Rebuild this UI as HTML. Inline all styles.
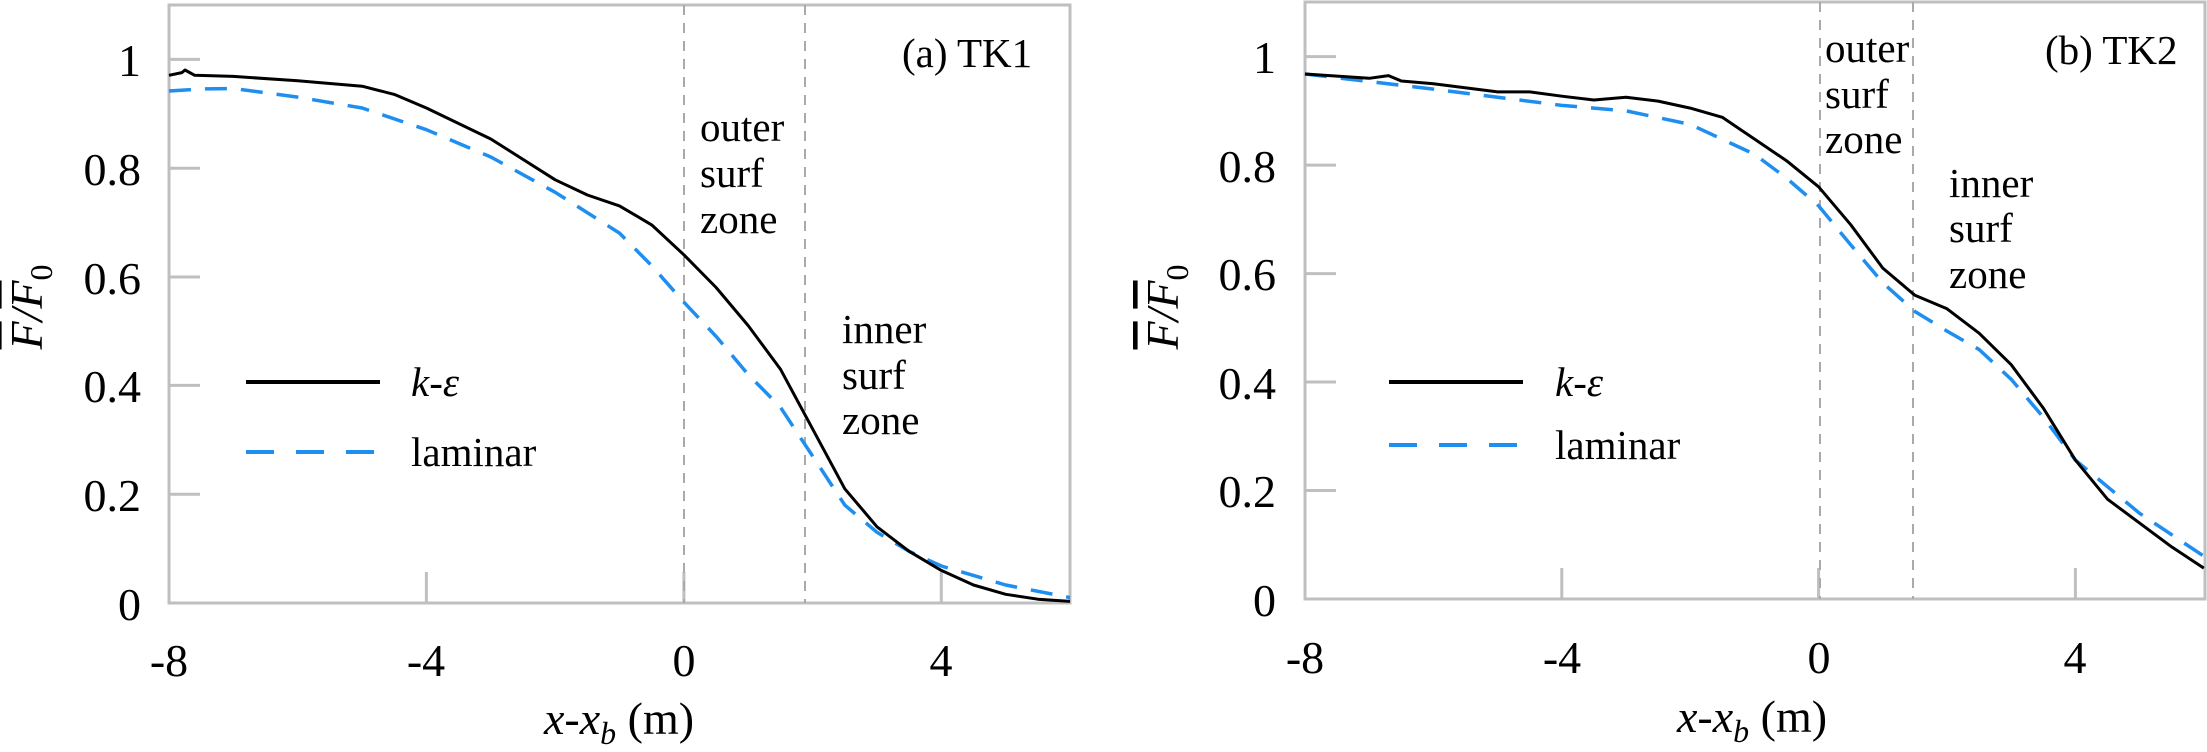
<!DOCTYPE html>
<html><head><meta charset="utf-8"><style>
html,body{margin:0;padding:0;background:#fff}
svg{display:block}
svg, svg text{font-family:"Liberation Serif","Times New Roman",serif}
text{fill:#000}
</style></head><body>
<svg width="2207" height="752" viewBox="0 0 2207 752" xmlns="http://www.w3.org/2000/svg" font-family="Liberation Serif, serif">
<!-- LEFT PANEL -->
<g fill="none">
<rect x="169" y="5" width="901" height="598" stroke="#bfbfbf" stroke-width="3"/>
<g stroke="#bfbfbf" stroke-width="3">
<line x1="169" y1="59.4" x2="200" y2="59.4"/><line x1="169" y1="168.2" x2="200" y2="168.2"/><line x1="169" y1="277" x2="200" y2="277"/><line x1="169" y1="385.4" x2="200" y2="385.4"/><line x1="169" y1="494.2" x2="200" y2="494.2"/>
<line x1="426.4" y1="603" x2="426.4" y2="572"/><line x1="683.9" y1="603" x2="683.9" y2="572"/><line x1="941.3" y1="603" x2="941.3" y2="572"/>
</g>
<g stroke="#aaa" stroke-width="2" stroke-dasharray="10,8">
<line x1="684" y1="5" x2="684" y2="603"/><line x1="805" y1="5" x2="805" y2="603"/>
</g>
<polyline stroke="#1e8ff0" stroke-width="3.5" stroke-dasharray="22,14" stroke-linejoin="round" points="169,91 200,89 233.4,88.5 297.7,97.1 362.1,108 426.4,129.7 490.8,157 555.2,192.3 619.5,233.1 651.7,265.7 683.9,302.2 716.1,336.4 748.2,374.5 780.4,407.2 812.6,456.1 844.8,505.1 877,532.3 909.1,551.3 941.3,566 1005.7,585 1070,597.6"/>
<polyline stroke="#000" stroke-width="3" stroke-linejoin="round" points="169,75.3 181.9,72.6 185,70 194.7,75.3 233.4,76.4 297.7,80.8 362.1,86.2 394.3,94.4 426.4,108 490.8,139 555.2,179.8 587.4,195 619.5,205.9 651.7,224.9 683.9,254.8 716.1,287.5 748.2,325.6 780.4,369.1 812.6,428.9 844.8,488.8 877,526.8 909.1,551.3 941.3,570.4 973.5,585 1005.7,594.3 1037.8,599.2 1070,601.4"/>
<line x1="246" y1="382" x2="380" y2="382" stroke="#000" stroke-width="4"/>
<line x1="246" y1="452" x2="380" y2="452" stroke="#1e8ff0" stroke-width="4" stroke-dasharray="28,22"/>
</g>
<g font-size="46" text-anchor="end">
<text x="141" y="76">1</text><text x="141" y="185">0.8</text><text x="141" y="294">0.6</text><text x="141" y="402">0.4</text><text x="141" y="511">0.2</text><text x="141" y="620">0</text>
</g>
<g font-size="46" text-anchor="middle">
<text x="169" y="676">-8</text><text x="426" y="676">-4</text><text x="684" y="676">0</text><text x="941" y="676">4</text>
<text x="619" y="734"><tspan font-style="italic">x</tspan>-<tspan font-style="italic">x</tspan><tspan font-style="italic" font-size="32" dy="10">b</tspan><tspan dy="-10"> (m)</tspan></text>
</g>
<text x="411" y="396" font-size="41" font-style="italic">k-ε</text>
<text x="411" y="466" font-size="41">laminar</text>
<text x="902" y="67" font-size="41">(a) TK1</text>
<g font-size="41"><text x="700" y="141">outer</text><text x="700" y="187">surf</text><text x="700" y="233">zone</text>
<text x="842" y="343">inner</text><text x="842" y="389">surf</text><text x="842" y="434">zone</text></g>
<g transform="translate(42,307) rotate(-90)"><text font-size="46" font-style="italic" text-anchor="middle"><tspan text-decoration="overline">F</tspan>/<tspan text-decoration="overline">F</tspan><tspan font-size="32" font-style="normal" dy="10">0</tspan></text></g>

<!-- RIGHT PANEL -->
<g fill="none">
<rect x="1305" y="2" width="900" height="597" stroke="#bfbfbf" stroke-width="3"/>
<g stroke="#bfbfbf" stroke-width="3">
<line x1="1305" y1="56.6" x2="1336" y2="56.6"/><line x1="1305" y1="165.1" x2="1336" y2="165.1"/><line x1="1305" y1="273.6" x2="1336" y2="273.6"/><line x1="1305" y1="382" x2="1336" y2="382"/><line x1="1305" y1="490.5" x2="1336" y2="490.5"/>
<line x1="1561.8" y1="599" x2="1561.8" y2="568"/><line x1="1818.6" y1="599" x2="1818.6" y2="568"/><line x1="2075.4" y1="599" x2="2075.4" y2="568"/>
</g>
<g stroke="#aaa" stroke-width="2" stroke-dasharray="10,8">
<line x1="1820" y1="2" x2="1820" y2="599"/><line x1="1913" y1="2" x2="1913" y2="599"/>
</g>
<polyline stroke="#1e8ff0" stroke-width="3.5" stroke-dasharray="22,14" stroke-linejoin="round" points="1305,74 1433.4,89.1 1561.8,105.4 1626,110.8 1690.2,124.4 1754.4,154.2 1786.5,178.1 1818.6,205.8 1850.7,244.8 1882.8,282.8 1914.9,311.5 1947,331.1 1979.1,349.5 2011.2,379.3 2043.3,417.3 2075.4,460.1 2139.6,513.3 2203.8,556.2"/>
<polyline stroke="#000" stroke-width="3" stroke-linejoin="round" points="1305,74 1369.2,78.3 1388.5,75.6 1401.3,81 1433.4,83.7 1497.6,91.9 1529.7,91.9 1561.8,96.2 1593.9,100 1626,97.3 1658.1,101.1 1690.2,108.1 1722.3,117.3 1754.4,139 1786.5,160.7 1818.6,186.8 1850.7,224.7 1882.8,268.1 1914.9,295.3 1947,308.8 1979.1,333.2 2011.2,364.7 2043.3,408.1 2075.4,460.1 2107.5,499.2 2139.6,523.1 2171.7,546.9 2203.8,568.1"/>
<line x1="1389" y1="382" x2="1523" y2="382" stroke="#000" stroke-width="4"/>
<line x1="1389" y1="445" x2="1523" y2="445" stroke="#1e8ff0" stroke-width="4" stroke-dasharray="28,22"/>
</g>
<g font-size="46" text-anchor="end">
<text x="1276" y="73">1</text><text x="1276" y="182">0.8</text><text x="1276" y="290">0.6</text><text x="1276" y="399">0.4</text><text x="1276" y="507">0.2</text><text x="1276" y="616">0</text>
</g>
<g font-size="46" text-anchor="middle">
<text x="1305" y="673">-8</text><text x="1562" y="673">-4</text><text x="1819" y="673">0</text><text x="2075" y="673">4</text>
<text x="1752" y="732"><tspan font-style="italic">x</tspan>-<tspan font-style="italic">x</tspan><tspan font-style="italic" font-size="32" dy="10">b</tspan><tspan dy="-10"> (m)</tspan></text>
</g>
<text x="1555" y="396" font-size="41" font-style="italic">k-ε</text>
<text x="1555" y="459" font-size="41">laminar</text>
<text x="2045" y="64" font-size="41">(b) TK2</text>
<g font-size="41"><text x="1825" y="62">outer</text><text x="1825" y="108">surf</text><text x="1825" y="153">zone</text>
<text x="1949" y="197">inner</text><text x="1949" y="242">surf</text><text x="1949" y="288">zone</text></g>
<g transform="translate(1178,307) rotate(-90)"><text font-size="46" font-style="italic" text-anchor="middle"><tspan text-decoration="overline">F</tspan>/<tspan text-decoration="overline">F</tspan><tspan font-size="32" font-style="normal" dy="10">0</tspan></text></g>
</svg>
</body></html>
